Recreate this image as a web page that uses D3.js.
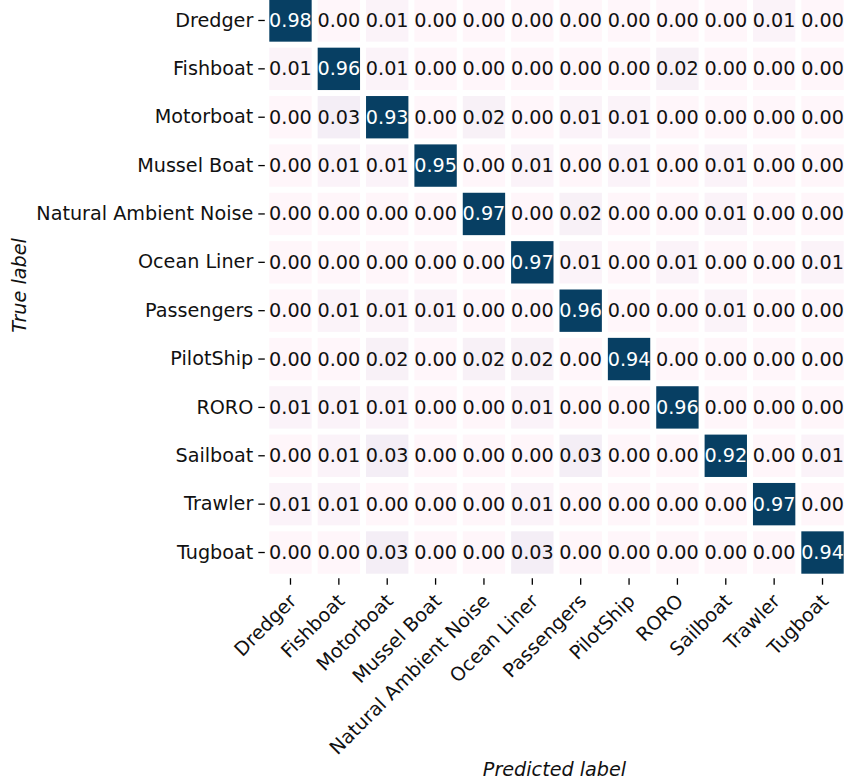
<!DOCTYPE html>
<html>
<head>
<meta charset="utf-8">
<script src="https://cdn.jsdelivr.net/npm/d3@7"></script>
<style>
  html, body { margin: 0; padding: 0; background: #fff; }
  svg { display: block; }
  text { font-family: "DejaVu Sans", sans-serif; }
</style>
</head>
<body>
<svg id="chart" width="845" height="780"></svg>
<script>
// Class names (same order for true and predicted axes)
const classes = ["Dredger", "Fishboat", "Motorboat", "Mussel Boat", "Natural Ambient Noise",
  "Ocean Liner", "Passengers", "PilotShip", "RORO", "Sailboat", "Trawler", "Tugboat"];

// Normalised confusion matrix, one row per true class
const dredger    = [0.98, 0.00, 0.01, 0.00, 0.00, 0.00, 0.00, 0.00, 0.00, 0.00, 0.01, 0.00];
const fishboat   = [0.01, 0.96, 0.01, 0.00, 0.00, 0.00, 0.00, 0.00, 0.02, 0.00, 0.00, 0.00];
const motorboat  = [0.00, 0.03, 0.93, 0.00, 0.02, 0.00, 0.01, 0.01, 0.00, 0.00, 0.00, 0.00];
const musselBoat = [0.00, 0.01, 0.01, 0.95, 0.00, 0.01, 0.00, 0.01, 0.00, 0.01, 0.00, 0.00];
const ambient    = [0.00, 0.00, 0.00, 0.00, 0.97, 0.00, 0.02, 0.00, 0.00, 0.01, 0.00, 0.00];
const oceanLiner = [0.00, 0.00, 0.00, 0.00, 0.00, 0.97, 0.01, 0.00, 0.01, 0.00, 0.00, 0.01];
const passengers = [0.00, 0.01, 0.01, 0.01, 0.00, 0.00, 0.96, 0.00, 0.00, 0.01, 0.00, 0.00];
const pilotShip  = [0.00, 0.00, 0.02, 0.00, 0.02, 0.02, 0.00, 0.94, 0.00, 0.00, 0.00, 0.00];
const roro       = [0.01, 0.01, 0.01, 0.00, 0.00, 0.01, 0.00, 0.00, 0.96, 0.00, 0.00, 0.00];
const sailboat   = [0.00, 0.01, 0.03, 0.00, 0.00, 0.00, 0.03, 0.00, 0.00, 0.92, 0.00, 0.01];
const trawler    = [0.01, 0.01, 0.00, 0.00, 0.00, 0.01, 0.00, 0.00, 0.00, 0.00, 0.97, 0.00];
const tugboat    = [0.00, 0.00, 0.03, 0.00, 0.00, 0.03, 0.00, 0.00, 0.00, 0.00, 0.00, 0.94];

const matrix = [dredger, fishboat, motorboat, musselBoat, ambient, oceanLiner,
  passengers, pilotShip, roro, sailboat, trawler, tugboat];

const svg = d3.select("#chart");
const fontSize = 19.2;

// Heatmap area
const plotLeft = 266.3, plotRight = 846.7, plotTop = -3.7, plotBottom = 576.7;
const gap = 3; // half of the white separator between cells

const x = d3.scaleBand().domain(classes).range([plotLeft, plotRight]);
const y = d3.scaleBand().domain(classes).range([plotTop, plotBottom]);

const color = d3.scaleLinear()
  .domain([0, 0.03, 0.9])
  .range(["#fff6fa", "#f4eef6", "#073f63"])
  .clamp(true);

const cells = [];
matrix.forEach((row, i) => row.forEach((v, j) => cells.push({ t: classes[i], p: classes[j], v })));

const g = svg.append("g");

g.selectAll("rect.cell").data(cells).enter().append("rect")
  .attr("class", "cell")
  .attr("x", d => x(d.p) + gap)
  .attr("y", d => y(d.t) + gap)
  .attr("width", x.bandwidth() - 2 * gap)
  .attr("height", y.bandwidth() - 2 * gap)
  .attr("fill", d => color(d.v));

g.selectAll("text.val").data(cells).enter().append("text")
  .attr("class", "val")
  .attr("x", d => x(d.p) + x.bandwidth() / 2)
  .attr("y", d => y(d.t) + y.bandwidth() / 2)
  .attr("text-anchor", "middle")
  .attr("dominant-baseline", "central")
  .attr("font-size", fontSize)
  .attr("fill", d => d.v > 0.5 ? "#ffffff" : "#111111")
  .text(d => d.v.toFixed(2));

// Y axis (true label)
const yAxis = d3.axisLeft(y).tickSize(6.5).tickPadding(5);
const gy = svg.append("g").attr("transform", `translate(${plotLeft - 1.5},0)`).call(yAxis);
gy.select(".domain").remove();
gy.selectAll(".tick line").attr("stroke", "#000").attr("stroke-width", 1.3);
gy.selectAll(".tick text").attr("font-size", fontSize).attr("fill", "#111")
  .attr("font-family", "DejaVu Sans, sans-serif");

// X axis (predicted label)
const xAxis = d3.axisBottom(x).tickSize(6.5).tickPadding(0);
const gx = svg.append("g").attr("transform", `translate(0,${plotBottom + 1.5})`).call(xAxis);
gx.select(".domain").remove();
gx.selectAll(".tick line").attr("stroke", "#000").attr("stroke-width", 1.3);
gx.selectAll(".tick text")
  .attr("font-size", fontSize).attr("fill", "#111")
  .attr("font-family", "DejaVu Sans, sans-serif")
  .attr("text-anchor", "end")
  .attr("dy", 0)
  .attr("y", 0)
  .attr("transform", "translate(7,24) rotate(-45)");

// Axis titles
svg.append("text")
  .attr("x", (plotLeft + plotRight) / 2 - 2)
  .attr("y", 776)
  .attr("text-anchor", "middle")
  .attr("font-size", fontSize)
  .attr("font-style", "italic")
  .attr("fill", "#111")
  .text("Predicted label");

svg.append("text")
  .attr("transform", `translate(25.5,${(plotTop + plotBottom) / 2 - 1}) rotate(-90)`)
  .attr("text-anchor", "middle")
  .attr("font-size", fontSize)
  .attr("font-style", "italic")
  .attr("fill", "#111")
  .text("True label");
</script>
</body>
</html>
